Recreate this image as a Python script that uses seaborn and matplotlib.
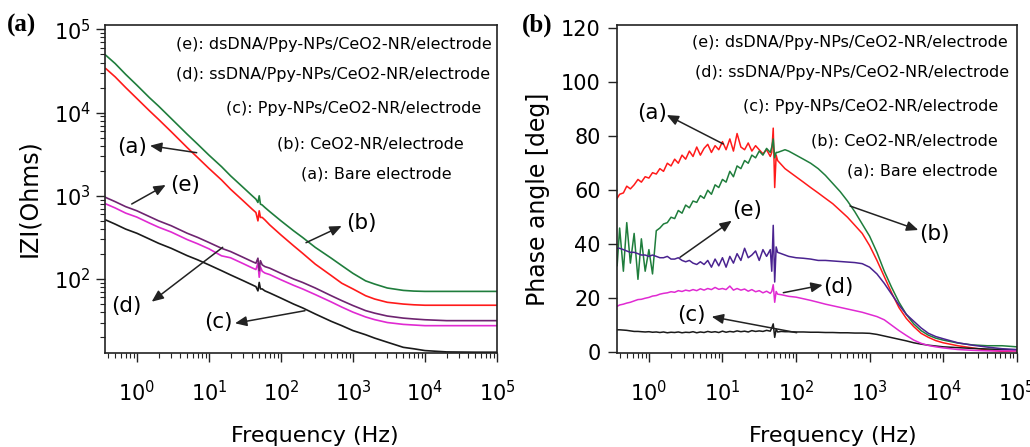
import numpy as np
import pandas as pd
import matplotlib
matplotlib.use("Agg")
import matplotlib.pyplot as plt
import seaborn as sns
from matplotlib.ticker import LogLocator, NullFormatter, FixedLocator

sns.set_style("ticks")
plt.rcParams["font.family"] = ["DejaVu Sans"]
plt.rcParams["text.color"] = "black"

# ---------------- data: panel (a) |Z| vs frequency ----------------
freq_z = [0.37, 0.5, 0.7, 1, 1.5, 2, 3, 5, 7, 10, 15, 20, 30, 40, 45, 48, 50, 52, 55, 60,
          70, 100, 150, 200, 300, 500, 700, 1000, 1500, 2000, 3000, 5000, 7000, 10000,
          20000, 50000, 100000]
z_bare = [33900, 26900, 20000, 14800, 10500, 8300, 5900, 3800, 2880, 2140,
          1550, 1200, 870, 690, 630, 500, 660, 550, 550, 513,
          447, 339, 251, 204, 151, 110, 89, 76, 63, 57.5,
          52.5, 50, 49, 48.4, 48.4, 48.4, 48.4]
z_ceo2 = [49000, 38900, 28800, 21400, 15100, 12000, 8500, 5500, 4170, 3090,
          2240, 1740, 1260, 1000, 912, 832, 1000, 794, 776, 724,
          646, 501, 380, 316, 240, 178, 145, 117, 95, 87,
          78, 73, 71.6, 71, 71, 71, 71]
z_ppy = [513, 457, 398, 355, 302, 269, 234, 191, 170, 148,
         126, 112, 95.5, 85, 81, 72, 91, 76, 76, 72,
         68, 59, 50, 45, 38, 31, 27.5, 24, 21.4, 19.5,
         17.4, 15.1, 14.5, 13.8, 13.3, 13.2, 13.2]
z_ssdna = [800, 715, 620, 555, 470, 420, 367, 298, 265, 231,
           190, 180, 153, 136, 130, 155, 105, 140, 124, 118,
           113, 98, 84, 76, 65, 53, 46, 40, 35, 32.5,
           30, 28.5, 28, 27.5, 27.5, 27.5, 27.5]
z_dsdna = [955, 851, 741, 661, 562, 501, 437, 355, 316, 275,
           234, 214, 182, 162, 155, 178, 126, 166, 148, 141,
           135, 117, 100, 91, 78, 63, 55, 48, 41.7, 38.9,
           35.9, 33.9, 33.1, 32.4, 31.6, 31.6, 31.6]

# ---------------- data: panel (b) phase vs frequency ----------------
freq_ph = [0.37, 0.40, 0.45, 0.50, 0.56, 0.63, 0.71, 0.79, 0.89, 1.0,
           1.12, 1.26, 1.41, 1.58, 1.78, 2.0, 2.24, 2.51, 2.82, 3.16,
           3.55, 3.98, 4.47, 5.01, 5.62, 6.31, 7.08, 7.94, 8.91, 10.0,
           11.2, 12.6, 14.1, 15.8, 17.8, 20.0, 22.4, 25.1, 28.2, 31.6,
           35.5, 39.8, 44.7, 46.8, 49.0, 51.3, 53.7, 56.2, 63.1, 70.8,
           79.4, 100, 126, 158, 200, 251, 316, 398, 501, 631,
           794, 1000, 1259, 1585, 1995, 2512, 3162, 3981, 5012, 6310,
           7943, 10000, 15849, 25119, 39811, 63096, 100000]
ph_bare = [57, 58.5, 59, 61.5, 60.5, 62, 64, 63, 65, 64.5,
           66.5, 66, 68, 67, 70, 69, 71.5, 70, 73, 71.5,
           74.5, 72.5, 76, 73, 75.5, 77, 74, 76.5, 75, 78,
           75, 79, 74.5, 81, 76, 75, 77.5, 74.5, 76.5, 75,
           73.5, 75, 72.5, 74, 83, 61, 73, 71, 69.5, 68,
           67, 65, 63, 61, 59, 57, 55, 52.5, 50, 47,
           44, 39.5, 34, 28, 22, 16.5, 12.5, 9.5, 7, 5.5,
           4.3, 3.5, 2.4, 1.6, 0.8, 0.3, 0.5]
ph_ceo2 = [32, 46, 30, 48, 33, 44, 27, 42, 30, 38,
           29, 45, 46, 47.5, 48, 50, 49.5, 52.5, 51.5, 54.5,
           53.5, 56, 55.5, 58, 57, 60, 58.5, 62, 61, 64,
           63, 67, 65, 69, 68, 71, 70, 73, 72, 74.5,
           73, 75.5, 74, 76, 79, 72, 74, 74, 74.5, 75,
           74.5, 73, 71.5, 70, 68, 65.5, 62.5, 59.5, 56, 52,
           47.5, 43, 37, 30, 24, 18.5, 14, 10.5, 8, 6.3,
           5.2, 4.5, 3.4, 2.7, 2.4, 2.4, 2.0]
ph_ppy = [8.3, 8.3, 8.2, 8.1, 7.9, 7.7, 7.7, 7.6, 7.5, 7.6,
          7.4, 7.5, 7.3, 7.5, 7.2, 7.4, 7.3, 7.5, 7.2, 7.4,
          7.3, 7.6, 7.2, 7.5, 7.3, 7.7, 7.4, 7.6, 7.3, 7.8,
          7.4, 7.7, 7.5, 7.9, 7.6, 7.8, 7.5, 8.0, 7.7, 7.9,
          7.7, 8.1, 7.8, 9.0, 10.5, 5.5, 8.5, 7.5, 7.7, 7.6,
          7.6, 7.5, 7.5, 7.4, 7.4, 7.3, 7.3, 7.2, 7.2, 7.1,
          7.1, 7.0, 6.6, 6.0, 5.4, 4.8, 4.2, 3.5, 3.0, 2.6,
          2.3, 2.0, 1.7, 1.4, 1.2, 1.0, 0.8]
ph_ssdna = [17, 17.5, 17.8, 18.2, 18.5, 19, 19.5, 19.6, 20, 20.3,
            20.8, 21, 21.5, 21.8, 22, 22.4, 22.2, 22.8, 22.5, 23,
            22.7, 23.2, 22.8, 23.5, 23, 23.6, 23.2, 24, 23.3, 23.6,
            23.2, 24.5, 23, 23.6, 23, 23.4, 22.6, 23.2, 22.4, 22.8,
            22, 22.6, 21.8, 22.5, 25, 18.5, 22.5, 21.5, 21.3, 21,
            20.7, 20.4, 19.8, 19.2, 18.5, 17.8, 17.2, 16.6, 16, 15.4,
            14.8, 14, 13.2, 12, 10, 8, 6.2, 4.5, 3.3, 2.5,
            2.0, 1.6, 1.0, 0.7, 0.5, 0.5, 0.5]
ph_dsdna = [38.5, 38.5, 38, 37.5, 37, 37, 36.5, 36, 36, 35.5,
            36, 35.5, 35, 35, 35.5, 34.5, 34.5, 35, 34, 33.5,
            34, 33, 32.5, 33.5, 32.5, 34, 31.5, 34.5, 32, 35,
            31.5, 35.5, 33, 36.5, 34, 38.5, 35, 36, 37.5, 34,
            38, 35.5, 38, 30, 47, 26, 39, 37, 36.5, 36,
            35.5, 35, 34.8, 34.5, 34, 34, 33.8, 33.6, 33.4, 33.2,
            32.8, 31.5, 29, 25.5, 21.5, 17.5, 14, 11.5, 9, 7,
            5.8, 5.0, 3.5, 2.6, 1.9, 1.3, 1.0]

legend_lines = ["(e): dsDNA/Ppy-NPs/CeO2-NR/electrode",
                "(d): ssDNA/Ppy-NPs/CeO2-NR/electrode",
                "(c): Ppy-NPs/CeO2-NR/electrode",
                "(b): CeO2-NR/electrode",
                "(a): Bare electrode"]
x_ticks = [1, 10, 100, 1000, 10000, 100000]
ph_ticks = [0, 20, 40, 60, 80, 100, 120]

samples = ["a", "b", "c", "d", "e"]
df_z = pd.concat([pd.DataFrame({"freq": freq_z, "val": v, "sample": s})
                  for s, v in zip(samples, [z_bare, z_ceo2, z_ppy, z_ssdna, z_dsdna])])
df_ph = pd.concat([pd.DataFrame({"freq": freq_ph, "val": v, "sample": s})
                   for s, v in zip(samples, [ph_bare, ph_ceo2, ph_ppy, ph_ssdna, ph_dsdna])])

RED, GREEN, BLACK, MAG = "#ff1a1a", "#1f7d3c", "#1a1a1a", "#e02ad2"
pal_z = {"a": RED, "b": GREEN, "c": BLACK, "d": MAG, "e": "#6e2470"}
pal_ph = {"a": RED, "b": GREEN, "c": BLACK, "d": MAG, "e": "#4a2390"}

W, H = 1030, 447
fig = plt.figure(figsize=(W / 100, H / 100), dpi=100)


def box(l, t, r, b):
    return [l / W, 1 - b / H, (r - l) / W, (b - t) / H]


def fp(x, y):
    return (x / W, 1 - y / H)


ax1 = fig.add_axes(box(105.3, 25, 497, 353.3))
ax2 = fig.add_axes(box(616.7, 25, 1016.7, 353.3))

sns.lineplot(data=df_z, x="freq", y="val", hue="sample", palette=pal_z, estimator=None,
             sort=False, legend=False, lw=1.2, ax=ax1)
sns.lineplot(data=df_ph, x="freq", y="val", hue="sample", palette=pal_ph, estimator=None,
             sort=False, legend=False, lw=1.1, ax=ax2)

for ax in (ax1, ax2):
    ax.set_xscale("log")
    ax.set_xlim(0.365, 1e5)
    ax.xaxis.set_major_locator(FixedLocator(x_ticks))
    ax.xaxis.set_minor_locator(LogLocator(base=10, subs=np.arange(2, 10) * 1.0, numticks=20))
    ax.xaxis.set_minor_formatter(NullFormatter())
    ax.set_xlabel("")
    ax.set_ylabel("")
    for sp in ax.spines.values():
        sp.set_linewidth(1.2)
        sp.set_color("#222222")
    ax.tick_params(which="major", length=6.5, width=1.0, labelsize=15, colors="#222222",
                   labelcolor="black")
    ax.tick_params(which="minor", length=3.5, width=0.8, colors="#222222")
    ax.tick_params(axis="x", which="major", pad=13)

ax1.set_yscale("log")
ax1.set_ylim(12.8, 1.13e5)
ax1.yaxis.set_major_locator(FixedLocator([100, 1000, 10000, 100000]))
ax1.yaxis.set_minor_locator(LogLocator(base=10, subs=np.arange(2, 10) * 1.0, numticks=20))
ax1.yaxis.set_minor_formatter(NullFormatter())
ax1.tick_params(axis="y", which="major", pad=4)

ax2.set_ylim(-0.4, 121.2)
ax2.yaxis.set_major_locator(FixedLocator(ph_ticks))
ax2.tick_params(axis="y", which="major", pad=5)

# axis titles
fig.text(*fp(315, 441.7), "Frequency (Hz)", fontsize=16, ha="center", va="baseline")
fig.text(*fp(833, 441.7), "Frequency (Hz)", fontsize=16, ha="center", va="baseline")
fig.text(*fp(29, 198), "IZI(Ohms)", fontsize=17, rotation=90, ha="center", va="center")
fig.text(*fp(538, 199), "Phase angle [deg]", fontsize=17, rotation=90, ha="center", va="center")

# panel letters
fig.text(*fp(22, 25), "(a)", fontfamily="Liberation Serif", fontweight="bold", fontsize=18,
         ha="center", va="center")
fig.text(*fp(537, 25), "(b)", fontfamily="Liberation Serif", fontweight="bold", fontsize=18,
         ha="center", va="center")

# legend-like text blocks
left_centers = [(333.5, 44), (333.5, 75), (353.5, 109), (370.5, 144), (376.5, 174)]
right_centers = [(850, 42), (852.5, 73), (871, 107), (904, 141), (922.5, 171)]
for txt, (x, y) in zip(legend_lines, left_centers):
    fig.text(*fp(x, y), txt, fontsize=11.5, ha="center", va="center")
for txt, (x, y) in zip(legend_lines, right_centers):
    fig.text(*fp(x, y), txt, fontsize=11.5, ha="center", va="center")

# arrow annotations: (label, text centre, arrow tail on curve, arrow head near label)
ann_left = [("(a)", (131.7, 146.7), (196.7, 152.7), (150, 145.7)),
            ("(e)", (185, 185), (131.7, 204), (165.7, 185)),
            ("(b)", (361, 222.7), (306, 242.7), (341.7, 226)),
            ("(d)", (126.7, 306), (222.7, 247.3), (151.7, 301.7)),
            ("(c)", (218.3, 321.7), (305, 310.7), (235, 323.3))]
ann_right = [("(a)", (651.7, 113.3), (723.3, 144), (666.7, 115)),
             ("(e)", (746.7, 210), (680, 257.3), (731.7, 220.7)),
             ("(b)", (934, 234), (850, 206), (918.3, 230)),
             ("(d)", (838.3, 287.3), (783.3, 292.7), (822.7, 285)),
             ("(c)", (691.7, 315), (796.7, 332.7), (711.7, 316.7))]
for ax, anns in ((ax1, ann_left), (ax2, ann_right)):
    for lab, tc, tail, head in anns:
        fig.text(*fp(*tc), lab, fontsize=15.5, ha="center", va="center")
        ax.annotate("", xy=fp(*head), xytext=fp(*tail), xycoords="figure fraction",
                    textcoords="figure fraction", annotation_clip=False,
                    arrowprops=dict(arrowstyle="-|>,head_length=0.7,head_width=0.3",
                                    color="#222222", lw=1.1, shrinkA=0, shrinkB=0))

fig.savefig("out.png", dpi=100)
